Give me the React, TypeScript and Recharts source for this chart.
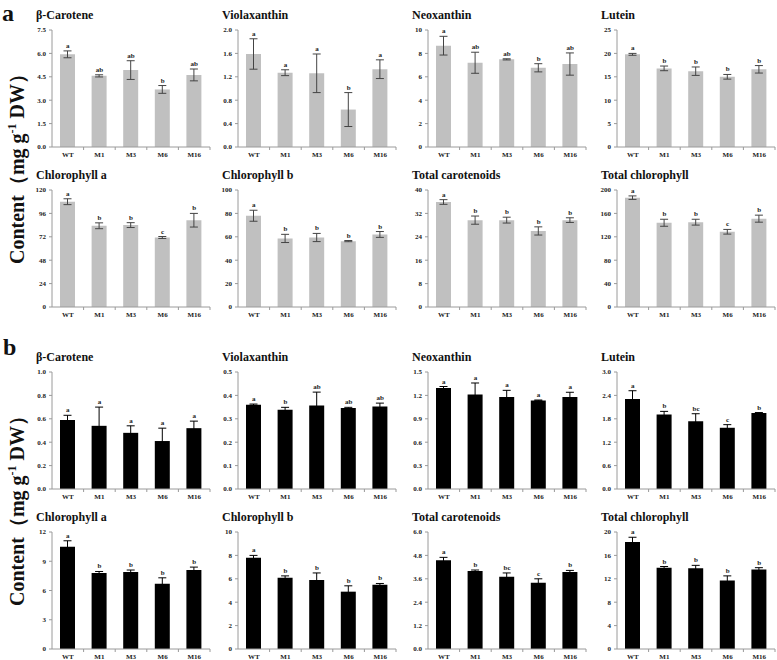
import { ComposedChart, Bar, ErrorBar, LabelList, Line, XAxis, YAxis } from "recharts"

const strains = ["WT", "M1", "M3", "M6", "M16"]

const titles = [
  "β-Carotene",
  "Violaxanthin",
  "Neoxanthin",
  "Lutein",
  "Chlorophyll a",
  "Chlorophyll b",
  "Total carotenoids",
  "Total chlorophyll",
]

// panel a - grey bars
const meansA = [
  [5.94, 4.56, 4.93, 3.69, 4.62],
  [1.59, 1.27, 1.26, 0.64, 1.33],
  [8.66, 7.2, 7.49, 6.77, 7.09],
  [19.8, 16.8, 16.2, 15.0, 16.6],
  [108, 83.3, 84, 71.3, 89],
  [78, 58.6, 59.4, 56.3, 62],
  [35.9, 29.7, 29.7, 26, 29.7],
  [186.9, 144, 145, 128.6, 151],
]
const errsA = [
  [0.22, 0.07, 0.6, 0.25, 0.38],
  [0.26, 0.05, 0.33, 0.29, 0.16],
  [0.8, 0.9, 0.05, 0.35, 0.95],
  [0.2, 0.5, 0.9, 0.5, 0.8],
  [3, 3, 2.5, 1, 7],
  [4.7, 3.5, 3.5, 0.5, 2.5],
  [0.8, 1.4, 1.0, 1.4, 0.8],
  [3, 6, 5, 4, 6],
]
const lettersA = [
  ["a", "ab", "ab", "b", "ab"],
  ["a", "a", "a", "b", "a"],
  ["a", "ab", "ab", "b", "ab"],
  ["a", "b", "b", "b", "b"],
  ["a", "b", "b", "c", "b"],
  ["a", "b", "b", "b", "b"],
  ["a", "b", "b", "b", "b"],
  ["a", "b", "b", "c", "b"],
]
const ticksA = [
  [0, 1.5, 3, 4.5, 6, 7.5],
  [0, 0.4, 0.8, 1.2, 1.6, 2],
  [0, 2, 4, 6, 8, 10],
  [0, 5, 10, 15, 20, 25],
  [0, 24, 48, 72, 96, 120],
  [0, 20, 40, 60, 80, 100],
  [0, 8, 16, 24, 32, 40],
  [0, 40, 80, 120, 160, 200],
]

// panel b - black bars
const meansB = [
  [0.59, 0.54, 0.48, 0.41, 0.52],
  [0.36, 0.339, 0.357, 0.346, 0.353],
  [1.294, 1.213, 1.18, 1.136, 1.18],
  [2.31, 1.91, 1.74, 1.57, 1.95],
  [10.5, 7.8, 7.9, 6.7, 8.1],
  [7.8, 6.1, 5.9, 4.9, 5.5],
  [4.55, 4.0, 3.7, 3.4, 3.95],
  [18.3, 13.9, 13.8, 11.7, 13.6],
]
const errsB = [
  [0.04, 0.16, 0.06, 0.11, 0.06],
  [0.003, 0.01, 0.057, 0.003, 0.014],
  [0.02, 0.146, 0.085, 0.005, 0.06],
  [0.21, 0.08, 0.19, 0.08, 0.01],
  [0.6, 0.15, 0.2, 0.6, 0.3],
  [0.2, 0.15, 0.6, 0.5, 0.1],
  [0.15, 0.05, 0.2, 0.2, 0.08],
  [0.8, 0.2, 0.5, 0.8, 0.3],
]
const lettersB = [
  ["a", "a", "a", "a", "a"],
  ["a", "b", "ab", "ab", "ab"],
  ["a", "a", "a", "a", "a"],
  ["a", "b", "bc", "c", "b"],
  ["a", "b", "b", "b", "b"],
  ["a", "b", "b", "b", "b"],
  ["a", "b", "bc", "c", "b"],
  ["a", "b", "b", "b", "b"],
]
const ticksB = [
  [0, 0.2, 0.4, 0.6, 0.8, 1],
  [0, 0.1, 0.2, 0.3, 0.4, 0.5],
  [0, 0.3, 0.6, 0.9, 1.2, 1.5],
  [0, 0.6, 1.2, 1.8, 2.4, 3],
  [0, 3, 6, 9, 12],
  [0, 2, 4, 6, 8, 10],
  [0, 1.2, 2.4, 3.6, 4.8, 6],
  [0, 4, 8, 12, 16, 20],
]

const serif = "'Liberation Serif', 'DejaVu Serif', serif"
const axisColor = "#9a9a9a"
const textColor = "#222"

const chartW = 190
const chartH = 137
const yAxisW = 30
const plotW = chartW - yAxisW - 2
const band = plotW / strains.length

const colLeft = [22, 208, 398, 587]
const rowTop = [24, 184, 366, 526]

function CatTick(props: any) {
  const { x, y, payload, index } = props
  const last = index === strains.length - 1
  return (
    <g>
      {index > 0 && <line x1={x - band / 2} x2={x - band / 2} y1={y - 5} y2={y - 2} stroke={axisColor} />}
      {last && <line x1={x + band / 2} x2={x + band / 2} y1={y - 5} y2={y - 2} stroke={axisColor} />}
      <text x={x} y={y} dy="0.71em" textAnchor="middle" fontSize={7} fontWeight="bold" fill={textColor} fontFamily={serif}>
        {payload.value}
      </text>
    </g>
  )
}

function Panel({ title, means, errs, letters, ticks, fill, errColor, left, top }: any) {
  const data = strains.map((name, i) => ({
    name,
    mean: means[i],
    err: errs[i],
    top: means[i] + errs[i],
    sig: letters[i],
  }))
  const decimals = ticks.some((t: number) => !Number.isInteger(t)) ? 1 : 0
  return (
    <div style={{ position: "absolute", left, top, width: chartW, height: chartH }}>
      <div
        style={{
          position: "absolute",
          left: yAxisW - 16,
          top: -15,
          fontFamily: serif,
          fontWeight: "bold",
          fontSize: 12,
          lineHeight: "12px",
          whiteSpace: "nowrap",
          color: "#111",
        }}
      >
        {title}
      </div>
      <ComposedChart width={chartW} height={chartH} data={data} margin={{ top: 6, right: 2, left: 0, bottom: 0 }}>
        <XAxis
          dataKey="name"
          height={14}
          interval={0}
          stroke={axisColor}
          tickLine={false}
          tickSize={3}
          tickMargin={2}
          tick={<CatTick />}
        />
        <YAxis
          width={yAxisW}
          domain={[0, ticks[ticks.length - 1]]}
          ticks={ticks}
          interval={0}
          stroke={axisColor}
          tickSize={3}
          tickMargin={3}
          tickFormatter={(v: number) => v.toFixed(decimals)}
          tick={{ fontSize: 7, fontWeight: "bold", fill: textColor, fontFamily: serif }}
        />
        <Bar dataKey="mean" fill={fill} barSize={15} isAnimationActive={false}>
          <ErrorBar dataKey="err" width={4} stroke={errColor} strokeWidth={1} />
        </Bar>
        <Line dataKey="top" stroke="none" dot={false} activeDot={false} isAnimationActive={false}>
          <LabelList
            dataKey="sig"
            position="top"
            offset={3}
            fontSize={7}
            fontWeight="bold"
            fill={textColor}
            fontFamily={serif}
            style={{ fill: textColor }}
          />
        </Line>
      </ComposedChart>
    </div>
  )
}

function YLabel({ cy }: { cy: number }) {
  return (
    <text transform={`translate(24,${cy}) rotate(-90)`} textAnchor="middle" fontSize={20} fontWeight="bold" fontFamily={serif} fill="#111">
      Content（mg g
      <tspan dy={-8} fontSize={12}>-1</tspan>
      <tspan dy={8}> DW）</tspan>
    </text>
  )
}

const panelLetter = {
  position: "absolute" as const,
  fontFamily: serif,
  fontWeight: "bold" as const,
  fontSize: 24,
  lineHeight: "12px",
  color: "#111",
}

export default function App() {
  const panels: any[] = []
  titles.forEach((title, i) => {
    const col = i % 4
    const row = Math.floor(i / 4)
    panels.push(
      <Panel
        key={"a" + i}
        title={title}
        means={meansA[i]}
        errs={errsA[i]}
        letters={lettersA[i]}
        ticks={ticksA[i]}
        fill="#c0c0c0"
        errColor="#444"
        left={colLeft[col]}
        top={rowTop[row]}
      />
    )
    panels.push(
      <Panel
        key={"b" + i}
        title={title}
        means={meansB[i]}
        errs={errsB[i]}
        letters={lettersB[i]}
        ticks={ticksB[i]}
        fill="#000"
        errColor="#000"
        left={colLeft[col]}
        top={rowTop[row + 2]}
      />
    )
  })

  return (
    <div style={{ position: "absolute", left: 0, top: 0, width: 777, height: 660, overflow: "hidden", background: "#fff" }}>
      <svg width={40} height={660} style={{ position: "absolute", left: 0, top: 0 }}>
        <YLabel cy={164} />
        <YLabel cy={506} />
      </svg>
      <div style={{ ...panelLetter, left: 2, top: 7 }}>a</div>
      <div style={{ ...panelLetter, left: 3, top: 341 }}>b</div>
      {panels}
    </div>
  )
}
